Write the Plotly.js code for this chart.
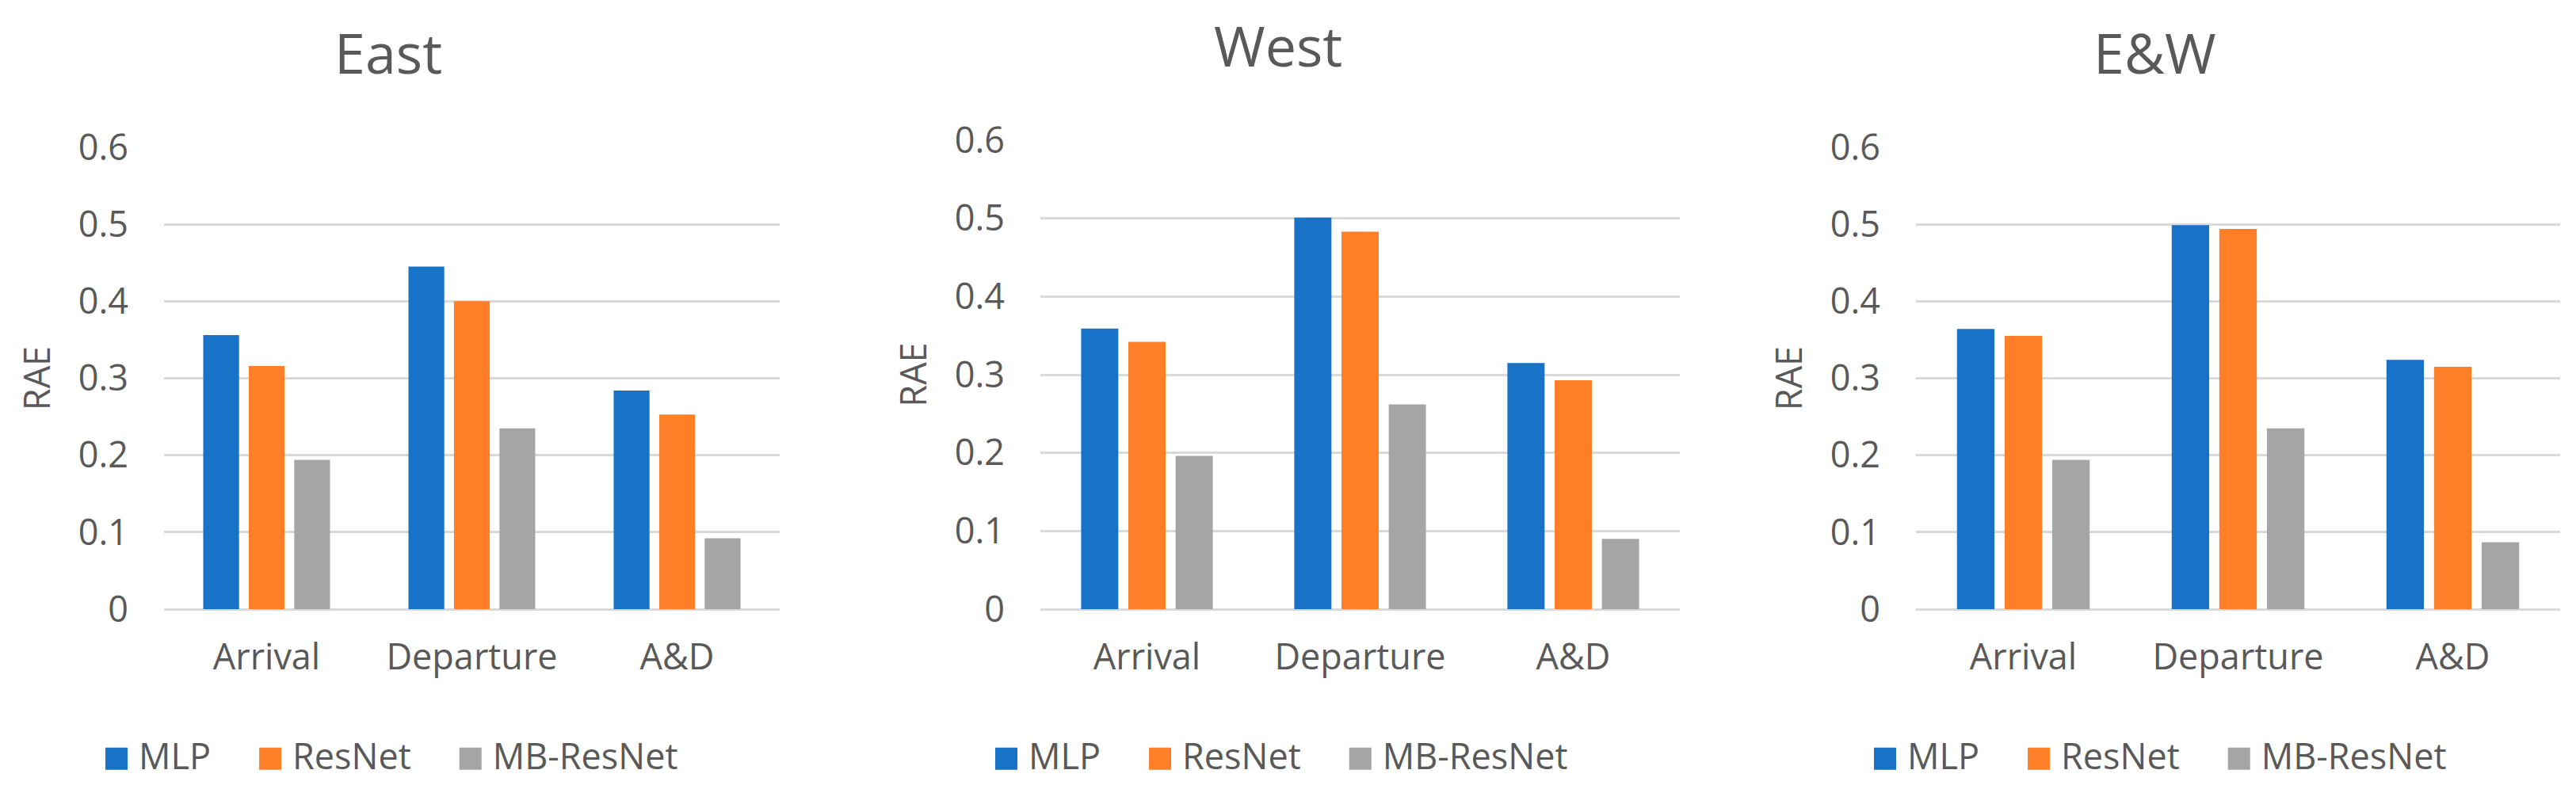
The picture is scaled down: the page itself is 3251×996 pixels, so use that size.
<!DOCTYPE html>
<html>
<head>
<meta charset="utf-8">
<script src="https://cdn.plot.ly/plotly-3.0.1.min.js"></script>
<style>
  html, body { margin: 0; padding: 0; background: #ffffff; }
  #chart { width: 3251px; height: 996px; }
</style>
</head>
<body>
<div id="chart"></div>
<script>
// ---- Data ----
const categories = ['Arrival', 'Departure', 'A&D'];
const seriesNames = ['MLP', 'ResNet', 'MB-ResNet'];
const panelTitles = ['East', 'West', 'E&W'];

const eastMLP = [0.356, 0.445, 0.284];
const eastResNet = [0.316, 0.400, 0.253];
const eastMBResNet = [0.194, 0.235, 0.092];

const westMLP = [0.359, 0.501, 0.315];
const westResNet = [0.342, 0.483, 0.293];
const westMBResNet = [0.196, 0.262, 0.090];

const ewMLP = [0.364, 0.499, 0.324];
const ewResNet = [0.355, 0.494, 0.315];
const ewMBResNet = [0.194, 0.235, 0.087];

const yTicks = [0, 0.1, 0.2, 0.3, 0.4, 0.5, 0.6];
const yTickText = ['0', '0.1', '0.2', '0.3', '0.4', '0.5', '0.6'];

// ---- Style ----
const colors = ['#1872C8', '#FE7F27', '#A5A5A5'];
const textColor = '#595959';
const gridColor = '#D9D9D9';
const fontFamily = '"Segoe UI", "Open Sans", "Noto Sans", sans-serif';

const W = 3251, H = 996;
const panels = [
  { data: [eastMLP, eastResNet, eastMBResNet], x0: 207, x1: 984, yTop: 186, yBot: 769, center: 496, titleY: 66 },
  { data: [westMLP, westResNet, westMBResNet], x0: 1313, x1: 2120, yTop: 177, yBot: 769, center: 1619, titleY: 57 },
  { data: [ewMLP, ewResNet, ewMBResNet], x0: 2418, x1: 3231, yTop: 186, yBot: 769, center: 2728, titleY: 66 }
];
const titleCenters = [490, 1613, 2719];

const traces = [];
const layout = {
  width: W, height: H,
  margin: { l: 0, r: 0, t: 0, b: 0 },
  paper_bgcolor: '#ffffff',
  plot_bgcolor: '#ffffff',
  barmode: 'group',
  bargap: 0.335,
  bargroupgap: 0.2126,
  font: { family: fontFamily, color: textColor, size: 45 },
  annotations: [],
  showlegend: true
};

const LEGEND_ITEMWIDTH = 88;
const LEGEND_SHIFT = 27;

panels.forEach((p, i) => {
  const n = i === 0 ? '' : String(i + 1);
  const legendName = 'legend' + n;
  p.data.forEach((vals, s) => {
    traces.push({
      type: 'bar',
      name: seriesNames[s],
      x: categories,
      y: vals,
      xaxis: 'x' + n,
      yaxis: 'y' + n,
      legend: legendName,
      marker: { color: colors[s], line: { width: 0 } },
      hoverinfo: 'skip'
    });
  });
  layout['xaxis' + n] = {
    domain: [p.x0 / W, p.x1 / W],
    anchor: 'y' + n,
    type: 'category',
    showgrid: false,
    showline: false,
    zeroline: false,
    ticks: '',
    ticklabelstandoff: 30,
    tickfont: { family: fontFamily, size: 45, color: textColor },
    fixedrange: true
  };
  layout['yaxis' + n] = {
    domain: [1 - p.yBot / H, 1 - p.yTop / H],
    anchor: 'x' + n,
    range: [0, 0.6],
    tickvals: yTicks,
    ticktext: yTickText,
    showgrid: true,
    gridcolor: gridColor,
    gridwidth: 3,
    zeroline: true,
    zerolinecolor: gridColor,
    zerolinewidth: 3,
    showline: false,
    ticks: '',
    ticklabelstandoff: 44,
    tickfont: { family: fontFamily, size: 45, color: textColor },
    title: { text: 'RAE', font: { family: fontFamily, size: 45, color: textColor }, standoff: 20 },
    fixedrange: true
  };
  layout[legendName] = {
    orientation: 'h',
    x: (p.center - LEGEND_SHIFT) / W,
    xanchor: 'center',
    y: 1 - 954 / H,
    yanchor: 'middle',
    itemwidth: LEGEND_ITEMWIDTH,
    font: { family: fontFamily, size: 45, color: textColor },
    bgcolor: 'rgba(0,0,0,0)',
    itemclick: false,
    itemdoubleclick: false
  };
  layout.annotations.push({
    text: panelTitles[i],
    xref: 'paper', yref: 'paper',
    x: titleCenters[i] / W,
    y: 1 - p.titleY / H,
    xanchor: 'center', yanchor: 'middle',
    showarrow: false,
    font: { family: fontFamily, size: 70, color: textColor }
  });
});

// Enlarge the legend swatches
function restyleLegendSymbols() {
  const holders = document.querySelectorAll('g.legendpoints');
  holders.forEach(holder => {
    try {
      // find the legend item group: nearest ancestor containing a text element
      let item = holder.parentNode;
      while (item && item.querySelector && !item.querySelector('text')) item = item.parentNode;
      if (!item || !item.querySelector) return;
      const txt = item.querySelector('text');
      const tl = txt.getBoundingClientRect().left;
      holder.querySelectorAll('path').forEach(path => {
        path.removeAttribute('transform');
        const ctm = path.getScreenCTM();
        if (!ctm) return;
        const size = 28;
        const xR = (tl - 14 - ctm.e) / (ctm.a || 1);
        const yC = 4;
        path.setAttribute('d', 'M' + xR + ',' + (yC + size / 2) + 'H' + (xR - size) +
          'V' + (yC - size / 2) + 'H' + xR + 'Z');
      });
    } catch (e) { /* ignore */ }
  });
}

const gd = document.getElementById('chart');
Plotly.newPlot(gd, traces, layout, { staticPlot: true, displayModeBar: false }).then(() => {
  restyleLegendSymbols();
  gd.on('plotly_afterplot', restyleLegendSymbols);
  setTimeout(restyleLegendSymbols, 50);
  setTimeout(restyleLegendSymbols, 300);
});
</script>
</body>
</html>
